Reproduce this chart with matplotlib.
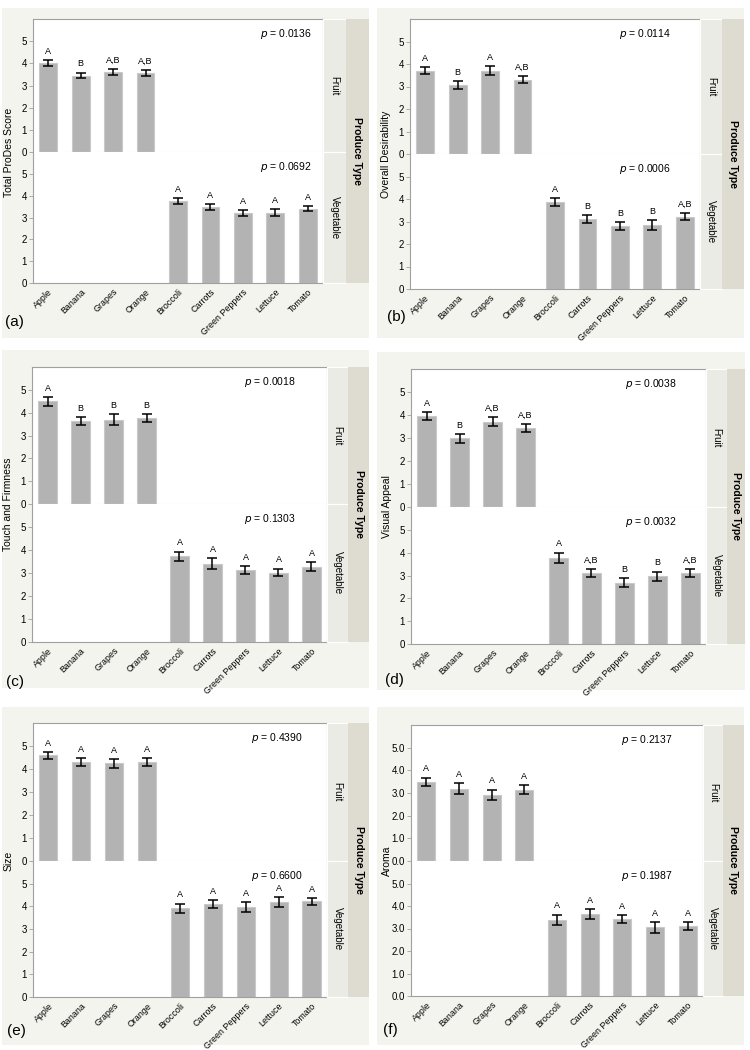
import matplotlib
matplotlib.use('Agg')
import matplotlib.pyplot as plt
from matplotlib.patches import Rectangle

plt.rcParams['font.family'] = ['Liberation Sans', 'DejaVu Sans']

# categories
fruits = ['Apple', 'Banana', 'Grapes', 'Orange']
vegetables = ['Broccoli', 'Carrots', 'Green Peppers', 'Lettuce', 'Tomato']
categories = fruits + vegetables

# attribute names (y axis labels) and panel tags
attributes = ['Total ProDes Score', 'Overall Desirability', 'Touch and Firmness',
              'Visual Appeal', 'Size', 'Aroma']
panel_tags = ['(a)', '(b)', '(c)', '(d)', '(e)', '(f)']

# means, standard errors, letter groups and p-values (fruit, vegetable)
fruit_means = [
    [4.02, 3.45, 3.61, 3.58],
    [3.71, 3.05, 3.71, 3.30],
    [4.49, 3.63, 3.69, 3.75],
    [3.95, 2.98, 3.71, 3.44],
    [4.59, 4.31, 4.24, 4.31],
    [3.49, 3.19, 2.92, 3.15],
]
fruit_err = [
    [0.13, 0.13, 0.15, 0.14],
    [0.15, 0.18, 0.20, 0.15],
    [0.18, 0.17, 0.23, 0.17],
    [0.17, 0.20, 0.20, 0.19],
    [0.15, 0.17, 0.18, 0.16],
    [0.19, 0.23, 0.23, 0.20],
]
fruit_letters = [
    ['A', 'B', 'A,B', 'A,B'],
    ['A', 'B', 'A', 'A,B'],
    ['A', 'B', 'B', 'B'],
    ['A', 'B', 'A,B', 'A,B'],
    ['A', 'A', 'A', 'A'],
    ['A', 'A', 'A', 'A'],
]
veg_means = [
    [3.77, 3.48, 3.20, 3.22, 3.41],
    [3.85, 3.10, 2.80, 2.84, 3.22],
    [3.73, 3.41, 3.13, 3.02, 3.27],
    [3.78, 3.12, 2.69, 2.96, 3.12],
    [3.92, 4.09, 3.98, 4.20, 4.22],
    [3.39, 3.65, 3.42, 3.06, 3.12],
]
veg_err = [
    [0.13, 0.15, 0.15, 0.17, 0.12],
    [0.18, 0.18, 0.18, 0.22, 0.15],
    [0.20, 0.24, 0.18, 0.17, 0.20],
    [0.22, 0.18, 0.19, 0.21, 0.17],
    [0.20, 0.18, 0.21, 0.21, 0.15],
    [0.23, 0.21, 0.19, 0.24, 0.18],
]
veg_letters = [
    ['A', 'A', 'A', 'A', 'A'],
    ['A', 'B', 'B', 'B', 'A,B'],
    ['A', 'A', 'A', 'A', 'A'],
    ['A', 'A,B', 'B', 'B', 'A,B'],
    ['A', 'A', 'A', 'A', 'A'],
    ['A', 'A', 'A', 'A', 'A'],
]
p_fruit = ['0.0136', '0.0114', '0.0018', '0.0038', '0.4390', '0.2137']
p_veg = ['0.0692', '0.0006', '0.1303', '0.0032', '0.6600', '0.1987']
yticks = [0, 1, 2, 3, 4, 5]

W, H = 750, 1050
# pixel layout: left, top, right, bottom, split, strip1 right, strip2 right
frames = [
    (33, 19, 323, 283, 152, 346, 369),
    (410, 19, 700, 289, 154, 722, 744),
    (32, 367, 327, 642, 504, 348, 369),
    (411, 369, 706, 644, 507, 727, 745),
    (33, 723, 327, 997, 861, 348, 369),
    (411, 725, 703, 996, 861, 723, 744),
]
bg_boxes = [(2, 8, 369, 338), (377, 8, 744, 338), (2, 350, 369, 688),
            (377, 352, 745, 690), (2, 707, 369, 1045), (377, 707, 744, 1045)]
tag_pos = [(5, 322), (387, 317), (6, 682), (385, 680), (7, 1031), (383, 1030)]
p_right = [11, 29, 31, 29, 24, 30]

fig = plt.figure(figsize=(7.5, 10.5), dpi=100)
fig.patch.set_facecolor('white')


def rect(x0, y0, x1, y1):
    return [x0 / W, 1 - y1 / H, (x1 - x0) / W, (y1 - y0) / H]


bar_color = '#b3b3b3'
edge_color = '#c9c9c9'
spine_color = '#a0a0a0'

for i in range(6):
    L, T, R, B, S, s1, s2 = frames[i]
    bx0, by0, bx1, by1 = bg_boxes[i]
    fig.patches.append(Rectangle((bx0 / W, 1 - by1 / H), (bx1 - bx0) / W, (by1 - by0) / H,
                                 transform=fig.transFigure, facecolor='#f4f4ee',
                                 edgecolor='none', zorder=-10))

    ax_top = fig.add_axes(rect(L, T, R, S))
    ax_bot = fig.add_axes(rect(L, S, R, B))

    groups = [(ax_top, range(0, 4), fruit_means[i], fruit_err[i], fruit_letters[i], p_fruit[i]),
              (ax_bot, range(4, 9), veg_means[i], veg_err[i], veg_letters[i], p_veg[i])]
    for ax, pos, means, errs, letters, pval in groups:
        ax.set_facecolor('white')
        ax.bar(list(pos), means, width=0.55, color=bar_color, edgecolor=edge_color, linewidth=0.8)
        ax.errorbar(list(pos), means, yerr=errs, fmt='none', ecolor='black',
                    elinewidth=1.1, capsize=3.5, capthick=1.1)
        for x, m, e, lt in zip(pos, means, errs, letters):
            ax.annotate(lt, (x, m + e), xytext=(0, 3), textcoords='offset points',
                        ha='center', va='bottom', fontsize=6.5)
        ax.set_xlim(-0.47, 8.47)
        ax.set_ylim(0, 6)
        ax.set_yticks(yticks)
        if i == 5:
            ax.set_yticklabels(['%.1f' % t for t in yticks])
        ax.tick_params(axis='y', length=3, width=0.6, color=spine_color, labelsize=7, pad=1.5)
        for sp in ax.spines.values():
            sp.set_color(spine_color)
            sp.set_linewidth(0.8)
        ax.annotate('$p$ = ' + pval, (1, 1), xycoords='axes fraction',
                    xytext=(-p_right[i] * 0.72, -5.5), textcoords='offset points',
                    ha='right', va='top', fontsize=7.5)

    ax_top.spines['bottom'].set_color('#e4e4e4')
    ax_top.tick_params(axis='x', bottom=False, labelbottom=False)
    ax_bot.spines['top'].set_visible(False)
    ax_bot.set_xticks(range(len(categories)))
    ax_bot.set_xticklabels(categories, rotation=45, ha='right', rotation_mode='anchor', fontsize=6.4)
    ax_bot.tick_params(axis='x', length=0, pad=3)

    # facet strips
    for (y0, y1, name) in [(T, S, 'Fruit'), (S, B, 'Vegetable')]:
        sa = fig.add_axes(rect(R, y0, s1, y1))
        sa.set_facecolor('#ebebe6')
        sa.set_xticks([])
        sa.set_yticks([])
        for sp in sa.spines.values():
            sp.set_color('white')
            sp.set_linewidth(0.8)
        sa.text(0.5, 0.5, name, rotation=270, ha='center', va='center',
                fontsize=7, transform=sa.transAxes)
    oa = fig.add_axes(rect(s1, T, s2, B))
    oa.set_facecolor('#dedcd0')
    oa.set_xticks([])
    oa.set_yticks([])
    for sp in oa.spines.values():
        sp.set_visible(False)
    oa.text(0.5, 0.5, 'Produce Type', rotation=270, ha='center', va='center',
            fontsize=7.5, fontweight='bold', transform=oa.transAxes)

    fig.text((L - 24) / W, 1 - S / H, attributes[i], rotation=90, ha='center',
             va='center', fontsize=7.5)
    tx, ty = tag_pos[i]
    fig.text(tx / W, 1 - ty / H, panel_tags[i], ha='left', va='center', fontsize=11)

fig.savefig('out.png', dpi=100, facecolor='white')
